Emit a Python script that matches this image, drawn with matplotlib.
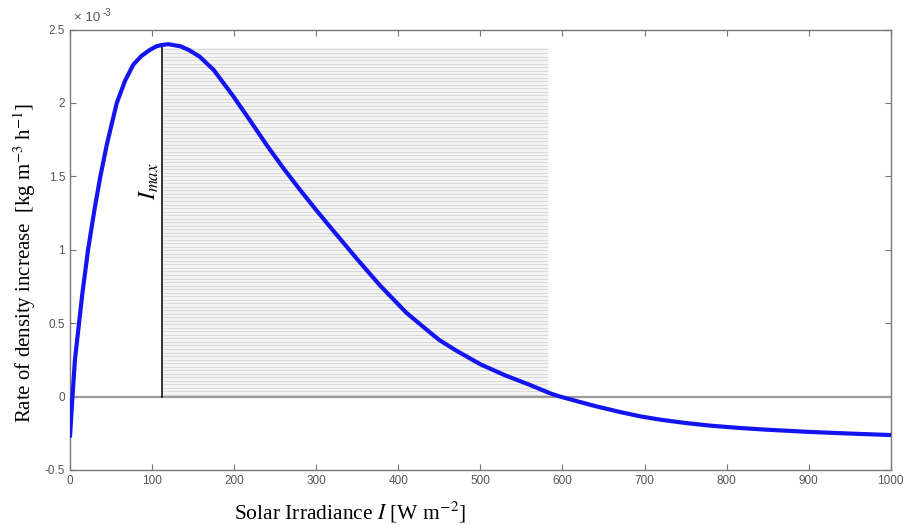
import matplotlib
matplotlib.use("Agg")
import matplotlib.pyplot as plt
import numpy as np

plt.rcParams['mathtext.fontset'] = 'stix'

# Data (rate in units of 1e-3 kg m^-3 h^-1)
irradiance = [0, 3, 6, 11, 15, 22, 30, 37, 45, 57, 67, 77, 87, 97, 105, 112, 120, 135,
              145, 158, 175, 199, 220, 240, 260, 280, 300, 317, 350, 378, 410, 439,
              450, 470, 500, 530, 560, 585, 597, 620, 640, 670, 695, 720, 750, 780,
              816, 850, 898, 950, 1000]
rate = [-0.27, 0.0, 0.25, 0.5, 0.7, 1.0, 1.28, 1.5, 1.72, 2.0, 2.15, 2.26, 2.32, 2.36,
        2.385, 2.395, 2.40, 2.385, 2.36, 2.315, 2.225, 2.045, 1.875, 1.71, 1.555, 1.41,
        1.27, 1.155, 0.935, 0.755, 0.57, 0.435, 0.385, 0.315, 0.22, 0.145, 0.08, 0.022,
        0.0, -0.035, -0.065, -0.105, -0.135, -0.158, -0.18, -0.198, -0.214, -0.226,
        -0.24, -0.252, -0.262]
i_max = 112
i_max_rate = 2.39
shade_x = [112, 583]
shade_top = 2.376
xticks = [0, 100, 200, 300, 400, 500, 600, 700, 800, 900, 1000]
yticks = [-0.5, 0, 0.5, 1, 1.5, 2, 2.5]
yticklabels = ['-0.5', '0', '0.5', '1', '1.5', '2', '2.5']

fig = plt.figure(figsize=(9.08, 5.27), dpi=100)
ax = fig.add_axes([0.0771, 0.1082, 0.9039, 0.8358])

# shaded (hatched) region
ax.fill_between(shade_x, 0, shade_top, color='#f3f3f3', lw=0, zorder=1)
ax.hlines(np.arange(0.012, shade_top, 0.024), shade_x[0], shade_x[1],
          colors='#d6d6d6', lw=0.6, zorder=1)

# zero line
ax.axhline(0, color='#9a9a9a', lw=1.6, zorder=2)
# I_max line
ax.plot([i_max, i_max], [0, i_max_rate], color='black', lw=1.1, zorder=3)

# curve
ax.plot(irradiance, rate, color='#1414f0', lw=3, solid_capstyle='round',
        solid_joinstyle='round', zorder=4)

ax.set_xlim(0, 1000)
ax.set_ylim(-0.5, 2.5)
ax.set_xticks(xticks)
ax.set_yticks(yticks)
ax.set_yticklabels(yticklabels)
ax.tick_params(direction='in', top=True, right=True, length=4, width=0.8,
               color='#777777', labelcolor='#555555', labelsize=8.5)
for lab in ax.get_xticklabels() + ax.get_yticklabels():
    lab.set_family('Liberation Sans')
for s in ax.spines.values():
    s.set_color('#777777')
    s.set_linewidth(1.0)

ax.text(96, 1.47, r'$I_{max}$', rotation=90, fontsize=17, ha='center', va='center',
        color='black')

fig.text(0.0771 + 0.004, 0.965, '\u00d7 10', fontsize=9.5, color='#555555',
         ha='left', va='center', family='Liberation Sans')
fig.text(0.0771 + 0.036, 0.975, '-3', fontsize=7, color='#555555',
         ha='left', va='center', family='Liberation Sans')
fig.text(0.027, 0.5, r'Rate of density increase  [kg m$^{-3}$ h$^{-1}$]', rotation=90,
         fontsize=15, ha='center', va='center', family='Liberation Serif')
fig.text(0.385, 0.028, r'Solar Irradiance $I$ [W m$^{-2}$]', fontsize=15.5,
         ha='center', va='center', family='Liberation Serif')

fig.savefig('out.png', dpi=100)
